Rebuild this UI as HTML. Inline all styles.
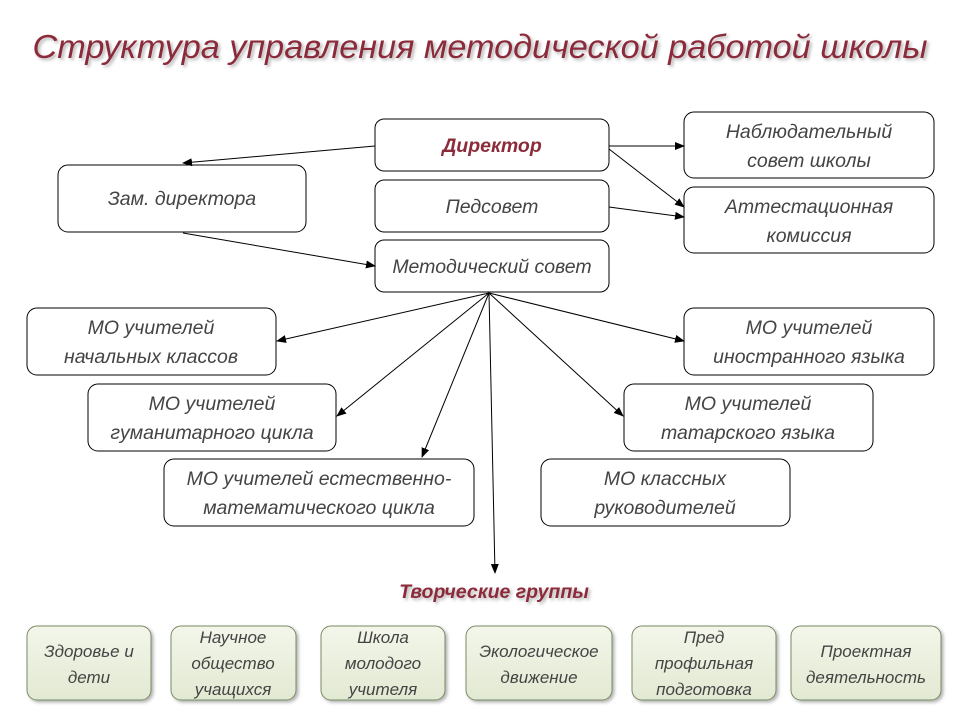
<!DOCTYPE html>
<html><head><meta charset="utf-8"><style>
html,body{margin:0;padding:0;background:#fff;}
svg text{font-family:"Liberation Sans","DejaVu Sans",sans-serif;font-style:italic;}
</style></head><body>
<svg width="960" height="720" viewBox="0 0 960 720" xmlns="http://www.w3.org/2000/svg">
<defs>
<marker id="a" markerWidth="10" markerHeight="8" refX="9" refY="4" orient="auto" markerUnits="userSpaceOnUse">
<path d="M0,0 L10,4 L0,8 z" fill="#000"/></marker>
<filter id="sh" x="-5%" y="-20%" width="110%" height="150%"><feDropShadow dx="2" dy="2" stdDeviation="1.5" flood-color="#000" flood-opacity="0.3"/></filter>
<linearGradient id="g" x1="0" y1="0" x2="0" y2="1"><stop offset="0" stop-color="#f3f6ea"/><stop offset="1" stop-color="#e2e9d2"/></linearGradient>
</defs>
<text x="480" y="58" text-anchor="middle" font-size="33" fill="#8b2c3a" textLength="895" lengthAdjust="spacingAndGlyphs" filter="url(#sh)">Структура управления методической работой школы</text>

<g fill="#fff" stroke="#000" stroke-width="1">
<rect x="375" y="119" width="234" height="52" rx="9"/>
<rect x="375" y="180" width="234" height="52" rx="9"/>
<rect x="375" y="240" width="234" height="52" rx="9"/>
<rect x="684" y="112" width="250" height="66" rx="10"/>
<rect x="684" y="187" width="250" height="66" rx="10"/>
<rect x="58" y="165" width="248" height="67" rx="10"/>
<rect x="27" y="308" width="249" height="67" rx="10"/>
<rect x="684" y="308" width="250" height="67" rx="10"/>
<rect x="88" y="384" width="248" height="67" rx="10"/>
<rect x="624" y="384" width="249" height="67" rx="10"/>
<rect x="164" y="459" width="310" height="67" rx="10"/>
<rect x="541" y="459" width="249" height="67" rx="10"/>
</g>

<g stroke="#000" stroke-width="1" fill="none" marker-end="url(#a)">
<line x1="375" y1="146" x2="183" y2="163"/>
<line x1="609" y1="146" x2="684" y2="146"/>
<line x1="609" y1="149" x2="684" y2="207"/>
<line x1="609" y1="207" x2="684" y2="217"/>
<line x1="183" y1="233" x2="375" y2="266"/>
<line x1="489" y1="293" x2="277" y2="341"/>
<line x1="489" y1="293" x2="337" y2="416"/>
<line x1="489" y1="293" x2="422" y2="457"/>
<line x1="489" y1="293" x2="495" y2="573"/>
<line x1="489" y1="293" x2="623" y2="416"/>
<line x1="489" y1="293" x2="684" y2="341"/>
</g>

<g font-size="19.5" fill="#444" text-anchor="middle">
<text x="492" y="152" fill="#8b2c3a" font-weight="bold">Директор</text>
<text x="492" y="213">Педсовет</text>
<text x="492" y="273">Методический совет</text>
<text x="809" y="138">Наблюдательный</text>
<text x="809" y="167">совет школы</text>
<text x="809" y="213">Аттестационная</text>
<text x="809" y="242">комиссия</text>
<text x="182" y="205">Зам. директора</text>
<text x="151" y="334">МО учителей</text>
<text x="151" y="363">начальных классов</text>
<text x="809" y="334">МО учителей</text>
<text x="809" y="363">иностранного языка</text>
<text x="212" y="410">МО учителей</text>
<text x="212" y="439">гуманитарного цикла</text>
<text x="748" y="410">МО учителей</text>
<text x="748" y="439">татарского языка</text>
<text x="319" y="485">МО учителей естественно-</text>
<text x="319" y="514">математического цикла</text>
<text x="665" y="485">МО классных</text>
<text x="665" y="514">руководителей</text>
</g>

<text x="494" y="598" text-anchor="middle" font-size="19.5" font-weight="bold" fill="#8b2c3a" filter="url(#sh)">Творческие группы</text>

<g fill="url(#g)" stroke="#7a8a66" stroke-width="1" filter="url(#sh)">
<rect x="27" y="626" width="124" height="74" rx="10"/>
<rect x="171" y="626" width="125" height="74" rx="10"/>
<rect x="321" y="626" width="124" height="74" rx="10"/>
<rect x="466" y="626" width="146" height="74" rx="10"/>
<rect x="632" y="626" width="144" height="74" rx="10"/>
<rect x="791" y="626" width="150" height="74" rx="10"/>
</g>
<g font-size="17" fill="#444" text-anchor="middle">
<text x="89" y="657">Здоровье и</text>
<text x="89" y="683">дети</text>
<text x="233" y="643">Научное</text>
<text x="233" y="669">общество</text>
<text x="233" y="695">учащихся</text>
<text x="383" y="643">Школа</text>
<text x="383" y="669">молодого</text>
<text x="383" y="695">учителя</text>
<text x="539" y="657">Экологическое</text>
<text x="539" y="683">движение</text>
<text x="704" y="643">Пред</text>
<text x="704" y="669">профильная</text>
<text x="704" y="695">подготовка</text>
<text x="866" y="657">Проектная</text>
<text x="866" y="683">деятельность</text>
</g>
</svg>
</body></html>
